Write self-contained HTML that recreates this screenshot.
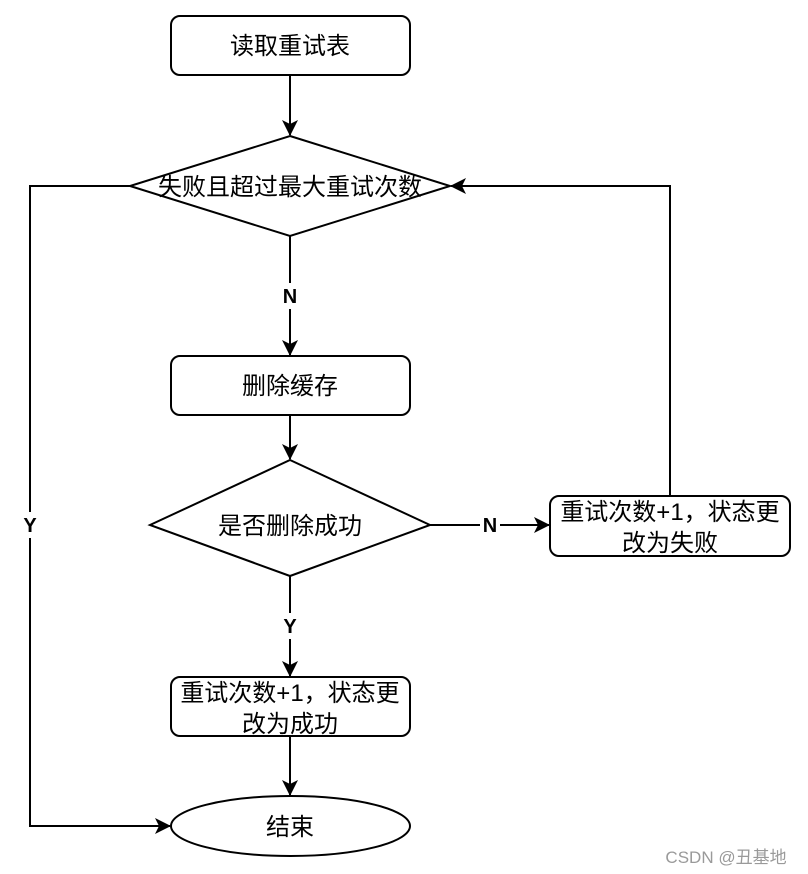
<!DOCTYPE html>
<html><head><meta charset="utf-8"><style>
html,body{margin:0;padding:0;background:#fff;}
svg{display:block;}
text{font-family:"Liberation Sans","Noto Sans CJK SC",sans-serif;}
</style></head><body>
<svg width="808" height="874" viewBox="0 0 808 874" xmlns="http://www.w3.org/2000/svg">
<defs>
<marker id="a" markerWidth="16" markerHeight="16" refX="15" refY="8" orient="auto" markerUnits="userSpaceOnUse">
<path d="M0,0 L16,8 L0,16 L4,8 Z" fill="#000"/>
</marker>
</defs>
<g fill="none" stroke="#000" stroke-width="2">
<rect x="171" y="16" width="239" height="59" rx="9"/>
<polygon points="290,136 450,186 290,236 130,186" fill="#fff"/>
<rect x="171" y="356" width="239" height="59" rx="9"/>
<polygon points="290,460 430,525 290,576 150,525"/>
<rect x="550" y="496" width="240" height="60" rx="9"/>
<rect x="171" y="677" width="239" height="59" rx="9"/>
<ellipse cx="290.5" cy="826" rx="119.5" ry="30"/>
<line x1="290" y1="75" x2="290" y2="135" marker-end="url(#a)"/>
<line x1="290" y1="236" x2="290" y2="355" marker-end="url(#a)"/>
<line x1="290" y1="415" x2="290" y2="459" marker-end="url(#a)"/>
<line x1="430" y1="525" x2="549" y2="525" marker-end="url(#a)"/>
<polyline points="670,496 670,186 451,186" marker-end="url(#a)"/>
<line x1="290" y1="576" x2="290" y2="676" marker-end="url(#a)"/>
<line x1="290" y1="736" x2="290" y2="795" marker-end="url(#a)"/>
<polyline points="130,186 30,186 30,826 170,826" marker-end="url(#a)"/>
</g>
<g font-size="24" text-anchor="middle" fill="#000">
<text x="290" y="54">读取重试表</text>
<text x="290" y="195">失败且超过最大重试次数</text>
<text x="290" y="394">删除缓存</text>
<text x="290" y="534">是否删除成功</text>
<text x="670" y="520">重试次数+1，状态更</text>
<text x="670" y="551">改为失败</text>
<text x="290" y="701">重试次数+1，状态更</text>
<text x="290" y="732">改为成功</text>
<text x="290" y="835">结束</text>
</g>
<g font-size="20" font-weight="bold" text-anchor="middle">
<rect x="280" y="283" width="20" height="26" fill="#fff"/>
<text x="290" y="303">N</text>
<rect x="480" y="512" width="20" height="26" fill="#fff"/>
<text x="490" y="532">N</text>
<rect x="280" y="613" width="20" height="26" fill="#fff"/>
<text x="290" y="633">Y</text>
<rect x="20" y="512" width="20" height="26" fill="#fff"/>
<text x="30" y="532">Y</text>
</g>
<text x="726" y="863" font-size="17" fill="#9a9a9a" text-anchor="middle">CSDN @丑基地</text>
</svg>
</body></html>
